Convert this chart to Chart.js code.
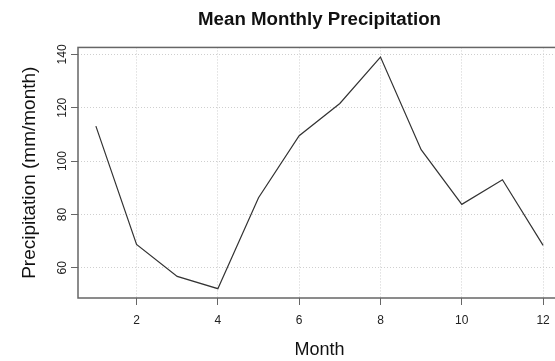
<!DOCTYPE html>
<html>
<head>
<meta charset="utf-8">
<script src="https://cdn.jsdelivr.net/npm/chart.js@4"></script>
<style>
  html, body { margin: 0; padding: 0; overflow: hidden; background: #fff; }
  canvas { display: block; }
</style>
</head>
<body>
<canvas id="precipChart" width="639" height="361"></canvas>
<script>
// data
const months = [1, 2, 3, 4, 5, 6, 7, 8, 9, 10, 11, 12];
const precip = [113.1, 68.8, 56.8, 52.2, 86.3, 109.5, 121.6, 139.0, 104.3, 83.8, 93.0, 68.4];
const xTicks = [2, 4, 6, 8, 10, 12];
const yTicks = [60, 80, 100, 120, 140];

const FONT = "'Liberation Sans', Arial, sans-serif";

// R style box around the plot region
const boxPlugin = {
    id: 'plotBox',
    afterDraw(chart) {
        const a = chart.chartArea;
        const ctx = chart.ctx;
        ctx.save();
        ctx.strokeStyle = '#666';
        ctx.lineWidth = 1.5;
        ctx.strokeRect(a.left, a.top, a.right - a.left, a.bottom - a.top);
        ctx.restore();
    }
};

const ctx = document.getElementById("precipChart").getContext("2d");
new Chart(ctx, {
    type: "line",
    data: {
        datasets: [{
            label: "Precipitation",
            data: months.map((m, i) => ({ x: m, y: precip[i] })),
            borderColor: "#333",
            borderWidth: 1.2,
            pointRadius: 0,
            tension: 0,
            fill: false
        }]
    },
    options: {
        responsive: false,
        devicePixelRatio: 1,
        animation: false,
        layout: { padding: 0 },
        plugins: {
            legend: { display: false },
            tooltip: { enabled: false },
            title: {
                display: true,
                text: "Mean Monthly Precipitation",
                color: "#111",
                font: { family: FONT, size: 18.7, weight: "bold" },
                padding: { top: 9, bottom: 16 }
            }
        },
        scales: {
            x: {
                type: "linear",
                position: "bottom",
                min: 0.56,
                max: 12.44,
                afterBuildTicks: s => { s.ticks = xTicks.map(v => ({ value: v })); },
                afterFit: s => { s.height = 63; },
                ticks: {
                    color: "#222",
                    font: { family: FONT, size: 12 },
                    padding: 8,
                    maxRotation: 0
                },
                grid: {
                    color: "#cfcfcf",
                    lineWidth: 1,
                    tickLength: 7,
                    tickColor: "#666",
                    tickWidth: 1,
                    tickBorderDash: []
                },
                border: { display: false, dash: [1, 2] },
                title: {
                    display: true,
                    text: "Month",
                    color: "#111",
                    font: { family: FONT, size: 18 },
                    padding: { top: 0, bottom: 0 }
                }
            },
            y: {
                type: "linear",
                position: "left",
                min: 48.7,
                max: 142.6,
                afterBuildTicks: s => { s.ticks = yTicks.map(v => ({ value: v })); },
                afterFit: s => { s.width = 78; },
                ticks: {
                    color: "#222",
                    font: { family: FONT, size: 12 },
                    minRotation: 90,
                    maxRotation: 90,
                    crossAlign: "center",
                    padding: -2
                },
                grid: {
                    color: "#cfcfcf",
                    lineWidth: 1,
                    tickLength: 7,
                    tickColor: "#666",
                    tickWidth: 1,
                    tickBorderDash: []
                },
                border: { display: false, dash: [1, 2] },
                title: {
                    display: true,
                    text: "Precipitation (mm/month)",
                    color: "#111",
                    font: { family: FONT, size: 19 },
                    padding: { top: 18, bottom: 0 }
                }
            },
            // empty right side so the title centres over the plot region
            yRight: {
                type: "linear",
                position: "right",
                display: true,
                afterFit: s => { s.width = 78; },
                ticks: { display: false },
                grid: { display: false },
                border: { display: false }
            }
        }
    },
    plugins: [boxPlugin]
});
</script>
</body>
</html>
